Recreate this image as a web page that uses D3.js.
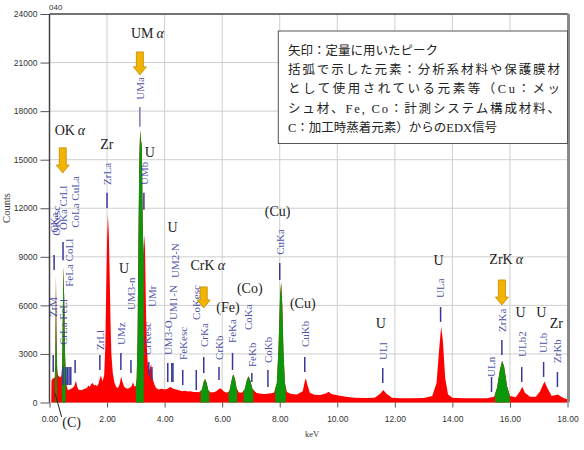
<!DOCTYPE html>
<html><head><meta charset="utf-8">
<script src="https://cdn.jsdelivr.net/npm/d3@7"></script>
<style>body{margin:0;background:#fff;overflow:hidden}</style>
</head><body><svg id="c" width="584" height="450"></svg>
<script>
// ---- data (keV, counts) ----
const spectrum = [
 [0.06,0],[0.07,1350],[0.10,1450],[0.14,1500],[0.18,1550],[0.20,2400],[0.215,5500],[0.225,7800],[0.24,4500],[0.26,2400],[0.29,1700],[0.33,1600],[0.37,1550],[0.41,1650],[0.44,2200],[0.46,5000],[0.48,8400],[0.51,6500],[0.54,3000],[0.57,1700],[0.60,1000],[0.64,760],[0.70,800],[0.75,850],[0.80,900],[0.86,1000],[0.92,1350],[0.96,1000],[1.0,800],[1.1,760],[1.2,830],[1.3,900],[1.35,1050],[1.4,950],[1.45,1150],[1.5,1200],[1.55,1050],[1.6,1100],[1.65,1000],[1.7,1150],[1.75,1500],[1.79,1650],[1.84,1300],[1.9,1700],[1.94,3500],[1.97,7000],[2.0,10000],[2.03,11600],[2.06,10500],[2.09,8000],[2.12,5000],[2.15,3000],[2.2,1800],[2.26,1200],[2.32,950],[2.38,900],[2.44,1150],[2.49,1600],[2.54,1250],[2.6,950],[2.7,850],[2.78,900],[2.85,1000],[2.9,1250],[2.95,1000],[3.0,1000],[3.03,1500],[3.06,4000],[3.09,10000],[3.12,15000],[3.15,16800],[3.18,16200],[3.21,15800],[3.24,11000],[3.27,9000],[3.29,10400],[3.32,9500],[3.35,6000],[3.38,3500],[3.42,2300],[3.47,2000],[3.53,2400],[3.58,1500],[3.65,1100],[3.7,900],[3.8,800],[3.9,850],[4.0,800],[4.1,850],[4.2,950],[4.3,850],[4.4,800],[4.5,750],[4.6,700],[4.7,720],[4.8,680],[4.9,700],[5.0,650],[5.1,650],[5.2,640],[5.3,800],[5.36,1300],[5.41,1450],[5.46,1200],[5.52,750],[5.6,620],[5.7,640],[5.8,700],[5.9,850],[5.96,870],[6.05,700],[6.15,600],[6.25,700],[6.32,1300],[6.38,1750],[6.44,1500],[6.5,900],[6.58,620],[6.68,600],[6.78,800],[6.86,1400],[6.92,1620],[6.98,1350],[7.05,850],[7.1,750],[7.2,580],[7.35,540],[7.5,530],[7.65,550],[7.8,600],[7.9,1200],[7.96,3500],[8.01,6500],[8.05,7400],[8.09,6000],[8.13,3200],[8.18,1200],[8.25,650],[8.4,520],[8.6,500],[8.8,700],[8.87,1300],[8.91,1500],[8.96,1100],[9.05,600],[9.2,480],[9.4,470],[9.6,550],[9.7,670],[9.8,520],[10.0,450],[10.3,350],[10.6,300],[11.0,280],[11.3,300],[11.5,550],[11.6,770],[11.7,550],[11.9,300],[12.2,270],[12.6,260],[13.0,280],[13.3,400],[13.45,1200],[13.55,3500],[13.61,4700],[13.67,3800],[13.75,1500],[13.85,500],[14.0,300],[14.4,260],[14.8,260],[15.2,270],[15.45,350],[15.55,900],[15.65,2000],[15.73,2580],[15.8,2200],[15.9,1000],[16.0,400],[16.2,320],[16.35,700],[16.43,980],[16.52,600],[16.7,350],[16.9,350],[17.05,700],[17.2,1300],[17.3,900],[17.45,400],[17.6,460],[17.67,500],[17.78,350],[17.9,250],[18.0,220]
];
const roiRanges = [[0.19,0.26],[0.43,0.56],[3.0,3.275],[5.25,5.55],[6.22,6.52],[6.74,7.08],[7.84,8.21],[15.48,15.99]];
const xTicks = [0,2,4,6,8,10,12,14,16,18];
const yTicks = [0,3000,6000,9000,12000,15000,18000,21000,24000];
// [label, keV, label start (counts), tick top, tick bottom]
const markers = [
 ["ZrM",0.13,5280,2930,1880],
 ["CKa",0.16,10480,9110,8190],
 ["OKesc",0.22,10300,null,null],
 ["CrLa FeLl",0.47,3550,2190,1080],
 ["FeLa CoLl",0.68,7150,2190,1080],
 ["OKa CrLl",0.47,10660,9920,8790],
 ["CoLa CuLa",0.89,10790,2630,1820],
 ["ZrLl",1.75,3240,2930,2010],
 ["ZrLa",2.0,13440,12950,12020],
 ["UMz",2.48,3550,3060,2010],
 ["UM3-n",2.83,5720,2630,1820],
 ["UMa",3.14,18700,18260,17030],
 ["UMb",3.28,13440,12950,11900],
 ["CrKesc",3.38,2930,null,null],
 ["UMr",3.56,5900,2190,1390],
 ["UM3-O",4.11,2930,2440,1270],
 ["UM1-N",4.29,5100,2440,1270],
 ["UM2-N",4.36,7690,null,null],
 ["FeKesc",4.63,2630,2010,1080],
 ["CoKesc",5.1,5100,2010,770],
 ["CrKa",5.36,3430,2810,1820],
 ["CrKb",5.89,2630,2190,1390],
 ["FeKa",6.36,3680,3060,2010],
 ["CoKa",6.89,4480,null,null],
 ["FeKb",7.03,2190,1820,1270],
 ["CoKb",7.59,2440,2010,960],
 ["CuKa",8.0,9120,8620,7570],
 ["CuKb",8.87,3430,2810,1880],
 ["ULl",11.58,2630,2130,1200],
 ["ULa",13.59,6460,5900,4980],
 ["ULn",15.36,1580,1580,650],
 ["ZrKa",15.72,4360,3860,2930],
 ["ULb2",16.41,2810,2190,1270],
 ["ULb",17.17,3060,2500,1580],
 ["ZrKb",17.65,2440,1880,960]
];
const extraTicks = [[0.57,2190,1080],[0.62,2190,1080],[0.74,2190,1080],[4.25,2440,1270],[3.45,2500,1700]];
// [text, greek suffix, keV, counts]
const elementLabels = [
 ["UM","α",3.4,22840],["OK","α",0.71,16840],["Zr","",1.99,15970],["U","",3.49,15480],
 ["U","",2.59,8310],["U","",4.28,10850],["CrK","α",5.5,8500],["(Fe)","",6.2,5900],
 ["(Co)","",6.96,7080],["(Cu)","",7.93,11830],["(Cu)","",8.8,6150],["U","",11.51,4910],
 ["U","",13.52,8810],["ZrK","α",15.87,8870],["U","",16.37,5590],["U","",17.09,5590],
 ["Zr","",17.61,4910],["(C)","",0.77,-1200]
];
const cLeader = [[0.42,-890],[0.19,590]];
// [keV, top counts, bottom counts]
const arrows = [[3.14,21660,20240],[0.46,15730,14180],[5.36,7140,5840],[15.72,7570,6020]];
const noteLines = ["矢印：定量に用いたピーク","括弧で示した元素：分析系材料や保護膜材","として使用されている元素等（Cu：メッ","シュ材、Fe, Co：計測システム構成材料、","C：加工時蒸着元素）からのEDX信号"];

// ---- drawing ----
const svg = d3.select("#c");
const x = d3.scaleLinear().domain([0,18]).range([49.5,567.5]);
const y = d3.scaleLinear().domain([0,24000]).range([402.5,14]);
const serif = "'Liberation Serif','Times New Roman',serif";

// grid
svg.append("g").selectAll("line.v").data(xTicks.slice(1,-1)).join("line")
 .attr("x1",d=>x(d)).attr("x2",d=>x(d)).attr("y1",y(24000)).attr("y2",y(0))
 .attr("stroke","#cfcfcf").attr("stroke-width",1);
svg.append("g").selectAll("line.h").data(yTicks.slice(0,-1)).join("line")
 .attr("x1",x(0)).attr("x2",x(18)).attr("y1",d=>y(d)).attr("y2",d=>y(d))
 .attr("stroke","#cfcfcf").attr("stroke-width",1);

// spectrum
const area = d3.area().x(d=>x(d[0])).y0(y(0)).y1(d=>y(d[1]));
svg.append("path").datum(spectrum).attr("d",area).attr("fill","#ff0000");
const defs = svg.append("defs");
const cp = defs.append("clipPath").attr("id","roi");
cp.selectAll("rect").data(roiRanges).join("rect")
 .attr("x",d=>x(d[0])).attr("width",d=>x(d[1])-x(d[0])).attr("y",0).attr("height",450);
svg.append("path").datum(spectrum).attr("d",area).attr("fill","#0b960b").attr("clip-path","url(#roi)");

// marker ticks and labels
const blue = "#38389c";
const mg = svg.append("g");
markers.filter(m=>m[3]!==null).forEach(m=>{
 mg.append("line").attr("x1",x(m[1])).attr("x2",x(m[1])).attr("y1",y(m[3])).attr("y2",y(m[4]))
  .attr("stroke",m[0]==="UMa"?"#7a7ab0":blue).attr("stroke-width",1.5);
});
extraTicks.forEach(t=>{
 mg.append("line").attr("x1",x(t[0])).attr("x2",x(t[0])).attr("y1",y(t[1])).attr("y2",y(t[2]))
  .attr("stroke",blue).attr("stroke-width",1.5);
});
markers.forEach(m=>{
 const px=x(m[1]), py=y(m[2]);
 mg.append("text").attr("transform",`translate(${px},${py}) rotate(-90)`)
  .attr("dy","0.35em").attr("text-anchor","start")
  .attr("font-family",serif).attr("font-size",11).attr("fill",blue).attr("fill-opacity",0.9)
  .text(m[0]);
});

// element labels
const eg = svg.append("g");
elementLabels.forEach(e=>{
 const t = eg.append("text").attr("x",x(e[2])).attr("y",y(e[3])).attr("dy","0.35em")
  .attr("text-anchor","middle").attr("font-family",serif).attr("font-size",14).attr("fill","#222");
 t.append("tspan").text(e[0]);
 if(e[1]) t.append("tspan").attr("font-style","italic").attr("dx",3).text(e[1]);
});
svg.append("line").attr("x1",x(cLeader[0][0])).attr("y1",y(cLeader[0][1]))
 .attr("x2",x(cLeader[1][0])).attr("y2",y(cLeader[1][1])).attr("stroke","#222").attr("stroke-width",1);

// arrows
arrows.forEach(a=>{
 const cx=x(a[0]), ty=y(a[1]), by=y(a[2]);
 const p=`M${cx-3.5},${ty}L${cx+3.5},${ty}L${cx+3.5},${by-8}L${cx+6.5},${by-8}L${cx},${by}L${cx-6.5},${by-8}L${cx-3.5},${by-8}Z`;
 svg.append("path").attr("d",p).attr("fill","#f2b400").attr("stroke","#c08a00").attr("stroke-width",0.8);
});

// axes
const ya = svg.append("g").attr("transform",`translate(${x(0)},0)`)
 .call(d3.axisLeft(y).tickValues(yTicks).tickSize(9).tickPadding(3).tickFormat(d3.format("d")));
ya.select(".domain").remove();
ya.selectAll("line").attr("stroke","#555");
ya.selectAll("text").attr("font-family","'Liberation Sans',Arial,sans-serif").attr("font-size",8.5).attr("fill","#333");
const xa = svg.append("g").attr("transform",`translate(0,${y(0)})`)
 .call(d3.axisBottom(x).tickValues(xTicks).tickSize(5).tickPadding(8).tickFormat(d3.format(".2f")));
xa.select(".domain").remove();
xa.selectAll("line").attr("stroke","#555");
xa.selectAll("text").attr("font-family","'Liberation Sans',Arial,sans-serif").attr("font-size",8.5).attr("fill","#333");

// frame
svg.append("line").attr("x1",x(0)).attr("x2",x(18)+1).attr("y1",y(24000)).attr("y2",y(24000)).attr("stroke","#444").attr("stroke-width",1.5);
svg.append("line").attr("x1",x(0)).attr("x2",x(0)).attr("y1",y(24000)).attr("y2",y(0)).attr("stroke","#444").attr("stroke-width",1.5);
svg.append("line").attr("x1",x(18)+1).attr("x2",x(18)+1).attr("y1",y(24000)).attr("y2",y(0)).attr("stroke","#8a8a8a").attr("stroke-width",3);

// note box
svg.append("rect").attr("x",x(7.95)).attr("y",y(22950)).attr("width",x(18)-x(7.95)).attr("height",y(16000)-y(22950))
 .attr("fill","#fff").attr("stroke","#555").attr("stroke-width",1);
const noteY = [54.5,74,93.3,112.5,131.5];
noteLines.forEach((l,i)=>{
 const t = svg.append("text").attr("x",288).attr("y",noteY[i])
  .attr("font-family","'Liberation Serif','Noto Sans CJK JP',serif").attr("font-size",12.5).attr("fill","#222").text(l);
 if(i>=1 && i<=3) t.attr("textLength",272).attr("lengthAdjust","spacing");
});

// titles
svg.append("text").attr("x",49).attr("y",10).attr("font-family","'Liberation Sans',Arial,sans-serif").attr("font-size",8).attr("fill","#333").text("040");
svg.append("text").attr("transform","translate(10,208) rotate(-90)").attr("text-anchor","middle")
 .attr("font-family",serif).attr("font-size",10.5).attr("fill","#333").text("Counts");
svg.append("text").attr("x",312).attr("y",437).attr("text-anchor","middle")
 .attr("font-family",serif).attr("font-size",8.5).attr("fill","#333").text("keV");
</script></body></html>
